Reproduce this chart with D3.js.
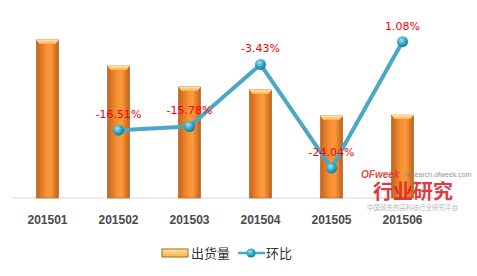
<!DOCTYPE html>
<html>
<head>
<meta charset="utf-8">
<script src="https://cdn.jsdelivr.net/npm/d3@7/dist/d3.min.js"></script>
<style>
  html, body { margin: 0; padding: 0; background: #fff; }
  svg { display: block; }
</style>
</head>
<body>
<div id="chart"></div>
<script>
// shipment volume (bars) and month-on-month change (line)
const months = ["201501", "201502", "201503", "201504", "201505", "201506"]
const shipments = [89.8, 75.0, 63.1, 61.4, 46.6, 47.1]
const momChange = [null, -16.51, -15.78, -3.43, -24.04, 1.08]
const legendLabels = ["出货量", "环比"]

const W = 477, H = 276
const margin = { top: 22, right: 39, bottom: 78, left: 12 }
const width = W - margin.left - margin.right
const height = H - margin.top - margin.bottom

const svg = d3.select("#chart").append("svg")
  .attr("width", W)
  .attr("height", H)

const defs = svg.append("defs")

// horizontal orange gradient for the bars
const barGrad = defs.append("linearGradient").attr("id", "barGrad")
  .attr("x1", "0%").attr("x2", "100%").attr("y1", "0%").attr("y2", "0%")
barGrad.append("stop").attr("offset", "0%").attr("stop-color", "#c8641a")
barGrad.append("stop").attr("offset", "45%").attr("stop-color", "#f99234")
barGrad.append("stop").attr("offset", "65%").attr("stop-color", "#fb9a3c")
barGrad.append("stop").attr("offset", "100%").attr("stop-color", "#c0601a")

const capGrad = defs.append("linearGradient").attr("id", "capGrad")
  .attr("x1", "0%").attr("x2", "0%").attr("y1", "0%").attr("y2", "100%")
capGrad.append("stop").attr("offset", "0%").attr("stop-color", "#ffe6a0")
capGrad.append("stop").attr("offset", "100%").attr("stop-color", "#fbb04a")

const dotGrad = defs.append("radialGradient").attr("id", "dotGrad")
  .attr("cx", "40%").attr("cy", "35%").attr("r", "65%")
dotGrad.append("stop").attr("offset", "0%").attr("stop-color", "#9fe4f4")
dotGrad.append("stop").attr("offset", "60%").attr("stop-color", "#2ea3c6")
dotGrad.append("stop").attr("offset", "100%").attr("stop-color", "#17799a")

const g = svg.append("g")
  .attr("transform", `translate(${margin.left},${margin.top})`)

// Scales
const x = d3.scaleBand()
  .domain(months)
  .range([0, width])
  .paddingInner(0.69)
  .paddingOuter(0.345)

const y = d3.scaleLinear().domain([0, 100]).range([height, 0])
const y2 = d3.scaleLinear().domain([-30, 5]).range([height, 0])

// baseline
g.append("line")
  .attr("x1", 0).attr("x2", width)
  .attr("y1", height).attr("y2", height)
  .attr("stroke", "#d9d9d9")
  .attr("stroke-width", 1)

// Bars
const bars = g.selectAll(".bar")
  .data(months.map((m, i) => ({ m, v: shipments[i] })))
  .enter().append("g")
  .attr("class", "bar")

bars.append("rect")
  .attr("x", d => x(d.m))
  .attr("y", d => y(d.v))
  .attr("width", x.bandwidth())
  .attr("height", d => height - y(d.v))
  .attr("fill", "url(#barGrad)")
  .attr("stroke", "#a9581a")
  .attr("stroke-width", 0.6)

bars.append("path")
  .attr("d", d => {
    const x0 = x(d.m), x1 = x0 + x.bandwidth(), y0 = y(d.v)
    return `M${x0},${y0}L${x1},${y0}L${x1 - 3},${y0 + 4}L${x0 + 3},${y0 + 4}Z`
  })
  .attr("fill", "url(#capGrad)")

// Line
const pts = months.map((m, i) => ({ m, v: momChange[i] })).filter(d => d.v !== null)
const cx = d => x(d.m) + x.bandwidth() / 2

g.append("path")
  .datum(pts)
  .attr("fill", "none")
  .attr("stroke", "#4aa8c4")
  .attr("stroke-width", 4)
  .attr("stroke-linejoin", "round")
  .attr("d", d3.line().x(cx).y(d => y2(d.v)))

g.selectAll(".dot")
  .data(pts)
  .enter().append("circle")
  .attr("class", "dot")
  .attr("cx", cx)
  .attr("cy", d => y2(d.v))
  .attr("r", 5.5)
  .attr("fill", "url(#dotGrad)")

g.selectAll(".lbl")
  .data(pts)
  .enter().append("text")
  .attr("class", "lbl")
  .attr("x", cx)
  .attr("y", d => y2(d.v) - 12)
  .attr("text-anchor", "middle")
  .style("font-family", "DejaVu Sans, sans-serif")
  .style("font-size", "11px")
  .style("fill", "#f00")
  .text(d => d.v.toFixed(2) + "%")

// x labels
g.selectAll(".xl")
  .data(months)
  .enter().append("text")
  .attr("class", "xl")
  .attr("x", d => x(d) + x.bandwidth() / 2)
  .attr("y", height + 26)
  .attr("text-anchor", "middle")
  .style("font-family", "Liberation Sans, Arial, sans-serif")
  .style("font-weight", "bold")
  .style("font-size", "12px")
  .style("fill", "#4a4a4a")
  .text(d => d)

// watermark
const wm = svg.append("g").attr("opacity", 0.9)
wm.append("text").attr("x", 361).attr("y", 178)
  .style("font-family", "Liberation Sans, Arial, sans-serif")
  .style("font-weight", "bold").style("font-style", "italic")
  .style("font-size", "10px").style("fill", "#e2382c")
  .text("OFweek")
wm.append("text").attr("x", 405).attr("y", 177)
  .style("font-family", "Liberation Sans, Arial, sans-serif")
  .style("font-size", "7px").style("fill", "#8a8a8a")
  .text("research.ofweek.com")
wm.append("text").attr("x", 373).attr("y", 199)
  .style("font-family", "Noto Sans CJK SC, sans-serif")
  .style("font-weight", "bold")
  .style("font-size", "20px").style("fill", "#e2242c")
  .text("行业研究")
wm.append("text").attr("x", 367).attr("y", 210)
  .style("font-family", "Noto Sans CJK SC, sans-serif")
  .style("font-size", "6.5px").style("fill", "#b0b0b0")
  .text("中国领先的高科技行业研究平台")

// Legend
const lg = svg.append("g")
lg.append("rect").attr("x", 162).attr("y", 249).attr("width", 26).attr("height", 8)
  .attr("fill", "url(#capGrad)").attr("stroke", "#b06418").attr("stroke-width", 1)
lg.append("text").attr("x", 191).attr("y", 258)
  .style("font-family", "Noto Sans CJK SC, sans-serif")
  .style("font-size", "13px").style("fill", "#333")
  .text(legendLabels[0])
lg.append("line").attr("x1", 238).attr("x2", 265).attr("y1", 253).attr("y2", 253)
  .attr("stroke", "#4aa8c4").attr("stroke-width", 2.5)
lg.append("circle").attr("cx", 251).attr("cy", 253).attr("r", 4.5)
  .attr("fill", "url(#dotGrad)")
lg.append("text").attr("x", 266).attr("y", 258)
  .style("font-family", "Noto Sans CJK SC, sans-serif")
  .style("font-size", "13px").style("fill", "#333")
  .text(legendLabels[1])
</script>
</body>
</html>
